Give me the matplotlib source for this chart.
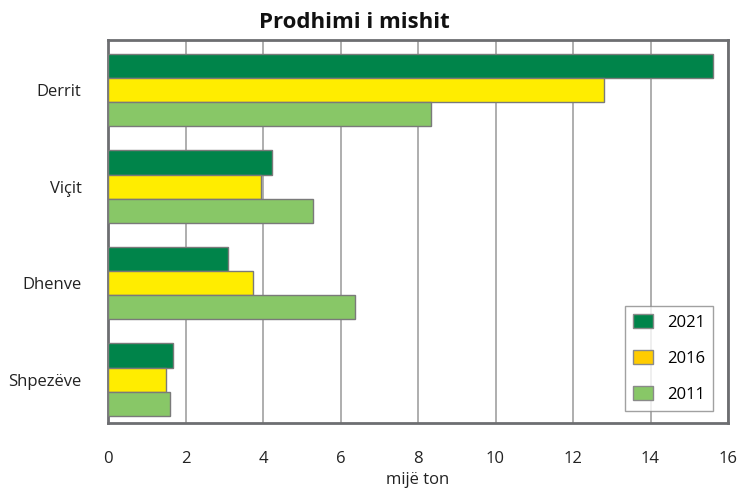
import matplotlib.pyplot as plt
from matplotlib.patches import Patch
import numpy as np

plt.rcParams['font.family'] = ['Open Sans', 'DejaVu Sans']

# data (mijë ton)
categories = ['Derrit', 'Viçit', 'Dhenve', 'Shpezëve']
years = ['2021', '2016', '2011']
values_2021 = [15.6, 4.22, 3.1, 1.68]
values_2016 = [12.8, 3.96, 3.75, 1.5]
values_2011 = [8.34, 5.29, 6.37, 1.6]
x_ticks = [0, 2, 4, 6, 8, 10, 12, 14, 16]

bar_colors = ['#00844a', '#ffed00', '#88c767']
legend_colors = ['#00844a', '#ffcc00', '#88c767']

fig = plt.figure(figsize=(7.38, 4.9), dpi=100)
ax = fig.add_axes([108 / 738, 1 - 423 / 490, 620 / 738, 383 / 490])

y = np.arange(len(categories))
h = 0.25
series = [values_2021, values_2016, values_2011]
for i, vals in enumerate(series):
    ax.barh(y + (i - 1) * h, vals, height=h, color=bar_colors[i],
            edgecolor='#7a7a7a', linewidth=1.0, zorder=3)

ax.set_xlim(0, 16)
ax.set_ylim(3.45, -0.52)
ax.set_xticks(x_ticks)
ax.set_xticklabels([str(t) for t in x_ticks], fontsize=12, color='#222222')
ax.set_yticks(y)
ax.set_yticklabels(categories, fontsize=12, color='#222222')
ax.tick_params(axis='x', length=0, pad=20)
ax.tick_params(axis='y', length=0, pad=19)
ax.grid(axis='x', color='#a8a8a8', linewidth=1.3, zorder=0)
for s in ax.spines.values():
    s.set_color('#6d6e71')
    s.set_linewidth(2)

ax.set_xlabel('mijë ton', fontsize=12, color='#222222', labelpad=4)
fig.text(354 / 738, 1 - 23 / 490, 'Prodhimi i mishit', fontsize=16,
         fontweight='bold', ha='center', va='center', color='#111111')

handles = [Patch(facecolor=c, edgecolor='#8a8a8a', linewidth=1.0) for c in legend_colors]
leg = ax.legend(handles, years, loc='lower right', bbox_to_anchor=(0.976, 0.031),
                fontsize=12, frameon=True, fancybox=False, labelspacing=1.15,
                handlelength=1.2, handleheight=0.9, handletextpad=0.8,
                borderpad=0.5, borderaxespad=0)
leg.get_frame().set_edgecolor('#8a8a8a')
leg.get_frame().set_linewidth(1.0)
leg.set_zorder(5)

fig.savefig('out.png', dpi=100)
